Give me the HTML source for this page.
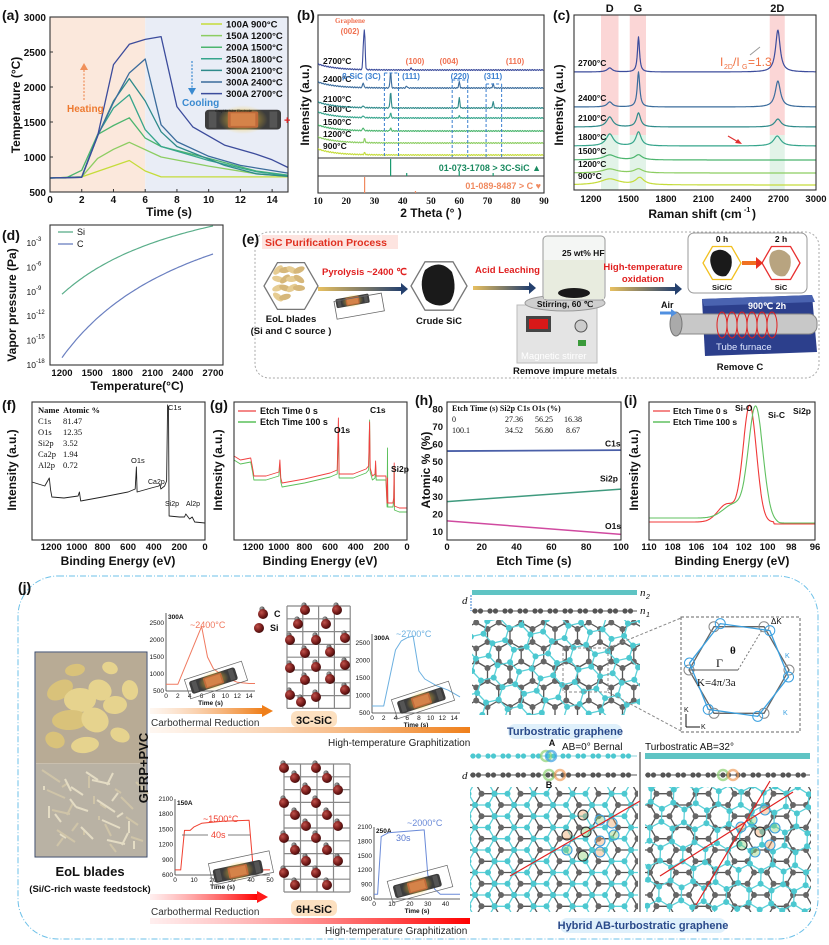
<!DOCTYPE html>
<html><head><meta charset="utf-8"><style>
html,body{margin:0;padding:0;background:#fff;width:829px;height:945px;overflow:hidden}
svg{display:block;font-family:"Liberation Sans",sans-serif}
</style></head><body>
<svg id="s" xmlns="http://www.w3.org/2000/svg" width="829" height="945" viewBox="0 0 829 945">
<defs>
<radialGradient id="si" cx="0.35" cy="0.35" r="0.7"><stop offset="0" stop-color="#c0504a"/><stop offset="0.6" stop-color="#7a1e1c"/><stop offset="1" stop-color="#3e0a0a"/></radialGradient>
<radialGradient id="cc" cx="0.35" cy="0.35" r="0.7"><stop offset="0" stop-color="#aaa"/><stop offset="1" stop-color="#333"/></radialGradient>
<radialGradient id="glow" cx="0.5" cy="0.5" r="0.5"><stop offset="0" stop-color="#ffcc33" stop-opacity="0.9"/><stop offset="1" stop-color="#ffcc33" stop-opacity="0"/></radialGradient>
<linearGradient id="gOr" x1="0" x2="1"><stop offset="0" stop-color="#f7b27a" stop-opacity="0.1"/><stop offset="1" stop-color="#ef7f1a"/></linearGradient>
<linearGradient id="gRd" x1="0" x2="1"><stop offset="0" stop-color="#ff6060" stop-opacity="0.1"/><stop offset="1" stop-color="#ff0000"/></linearGradient>
<linearGradient id="gAr" x1="0" x2="1"><stop offset="0" stop-color="#e8c060"/><stop offset="1" stop-color="#24406e"/></linearGradient>
<g id="heater"><rect x="0" y="3" width="80" height="22" rx="4" fill="#3c3c3c"/><rect x="4" y="5" width="8" height="18" fill="#555"/><rect x="68" y="5" width="8" height="18" fill="#555"/><ellipse cx="40" cy="14" rx="26" ry="16" fill="url(#glow)"/><rect x="24" y="5" width="32" height="18" rx="2" fill="#c06a3a"/><rect x="27" y="7" width="26" height="14" fill="#d98a4e" opacity="0.8"/></g>
</defs>
</svg>
<script>
var S=document.getElementById('s'),NS='http://www.w3.org/2000/svg';
function el(t,a,tx,par){var e=document.createElementNS(NS,t);for(var k in a)e.setAttribute(k,a[k]);if(tx!=null)e.textContent=tx;(par||S).appendChild(e);return e;}
function T(x,y,s,o){o=o||{};var a={x:x,y:y,'font-size':o.fs||9,fill:o.c||'#111'};if(o.b!==false)a['font-weight']='bold';if(o.a)a['text-anchor']=o.a;if(o.r)a.transform='rotate('+o.r+' '+x+' '+y+')';if(o.f)a['font-family']=o.f;if(o.it)a['font-style']='italic';return el('text',a,s);}
function lin(d0,d1,p0,p1){return function(v){return p0+(v-d0)*(p1-p0)/(d1-d0);};}
function path(pts,c,w,extra){var d='M'+pts.map(function(p){return p[0].toFixed(1)+','+p[1].toFixed(1)}).join('L');var a={d:d,fill:'none',stroke:c,'stroke-width':w||1.2,'stroke-linejoin':'round'};for(var k in extra||{})a[k]=extra[k];return el('path',a);}
function frame(x0,y0,x1,y1){el('rect',{x:x0,y:y0,width:x1-x0,height:y1-y0,fill:'none',stroke:'#333','stroke-width':1.1});}
var cols=['#c5dc3a','#8ccd62','#4cb56e','#36a58c','#2e8a8a','#3b6c9c','#3c4c9c'];

/* ===== (a) ===== */
(function(){var x0=50,x1=288,y0=17,y1=192,X=lin(0,15,x0,x1),Y=lin(500,3000,y1,y0);
el('rect',{x:x0,y:y0,width:X(6)-x0,height:y1-y0,fill:'#fbe8dc'});el('rect',{x:X(6),y:y0,width:x1-X(6),height:y1-y0,fill:'#e9edf6'});
var D=[[[0,700],[2,715],[5,950],[6,800],[7,715],[15,715]],
[[0,700],[2,715],[3,980],[4,1110],[5,1210],[7,1000],[10,870],[13,760],[15,725]],
[[0,700],[1,700],[2,810],[3,1320],[4,1450],[5,1560],[6,1270],[7,1150],[10,980],[13,800],[15,740]],
[[0,700],[2,715],[3,1320],[4,1700],[5,1890],[6,1390],[7,1150],[10,950],[13,790],[15,735]],
[[0,700],[2,710],[3,1300],[4,1800],[5,2120],[6,1800],[7,1360],[8,1150],[11,880],[13,760],[15,725]],
[[0,700],[2,710],[3,1300],[4,1780],[5,2200],[6,2400],[7,1460],[8,1220],[10,1010],[12,880],[15,770]],
[[0,700],[2,710],[3,1300],[4,2320],[5,2610],[6,2680],[7,2720],[8,1720],[9,1430],[11,1170],[13,1040],[14,960],[15,850]]];
D.forEach(function(d,i){path(d.map(function(p){return[X(p[0]),Y(p[1])]}),cols[i],1.3);});
frame(x0,y0,x1,y1);
for(var v=500;v<=3000;v+=500){T(x0-4,Y(v)+4,v,{a:'end',fs:10});el('line',{x1:x0,x2:x0+3,y1:Y(v),y2:Y(v),stroke:'#333'});}
for(var t=0;t<=14;t+=2){T(X(t),203,t,{a:'middle',fs:10});el('line',{x1:X(t),x2:X(t),y1:y1,y2:y1-3,stroke:'#333'});}
T(169,216,'Time (s)',{a:'middle',fs:12});T(20,105,'Temperature (°C)',{a:'middle',fs:12,r:-90});T(2,20,'(a)',{fs:14});
var L=['100A  900°C','150A 1200°C','200A 1500°C','250A 1800°C','300A 2100°C','300A 2400°C','300A 2700°C'];
L.forEach(function(s,i){var y=24+i*11.6;el('line',{x1:201,x2:222,y1:y,y2:y,stroke:cols[i],'stroke-width':1.5});T(226,y+3.5,s,{fs:9.5});});
el('line',{x1:84,x2:84,y1:100,y2:68,stroke:'#f0905a','stroke-width':1.2,'stroke-dasharray':'2,1.5'});el('path',{d:'M80,70L84,63L88,70Z',fill:'#f0905a'});
T(67,112,'Heating',{fs:10,c:'#ee7a30'});
el('line',{x1:192,x2:192,y1:61,y2:90,stroke:'#3a8ad0','stroke-width':1.2,'stroke-dasharray':'2,1.5'});el('path',{d:'M188,88L192,95L196,88Z',fill:'#3a8ad0'});
T(182,106,'Cooling',{fs:10,c:'#3a8ad0'});
el('use',{href:'#heater',transform:'translate(205,107) scale(0.95,0.9)'});T(215,112,'Graphite tube   Electrode',{fs:3.5,b:false});T(284,124,'+',{fs:11,c:'#e02020'});
})();

/* ===== (b) ===== */
(function(){var x0=318,x1=544,y0=15,y1=193,X=lin(10,90,x0,x1);
frame(x0,y0,x1,y1);el('line',{x1:x0,x2:x1,y1:158,y2:158,stroke:'#333'});el('line',{x1:x0,x2:x1,y1:176,y2:176,stroke:'#333'});
var B=[155,143,131,118,108,88,70],names=['900°C','1200°C','1500°C','1800°C','2100°C','2400°C','2700°C'];
var P=[[[26.5,2]],[[26.5,4]],[[26,3],[35.7,3]],[[26,2],[35.7,5],[60,2]],[[26,2],[35.7,16],[60,10],[72,6]],[[26,5],[35.7,16],[41.4,2],[60,6],[72,4]],[[26.5,34],[26.1,24],[43,2]]];
B.forEach(function(b,i){var pts=[];for(var t=10;t<=90;t+=0.2){var y=b-6*Math.exp(-(t-10)/6)+Math.sin(t*7.3)*0.5;P[i].forEach(function(p){y-=p[1]*Math.exp(-Math.pow((t-p[0])/0.3,2));});pts.push([X(t),y]);}path(pts,cols[i],1.1);T(x0+5,b-6,names[i],{fs:8.5});});
[[33.5,73],[38.5,73],[57.5,80],[63,80],[69.5,84],[75,84]].forEach(function(d){el('line',{x1:X(d[0]),x2:X(d[0]),y1:d[1],y2:157,stroke:'#3a7fd0','stroke-dasharray':'3,2','stroke-width':1});});
[[33.5,38.5,73],[57.5,63,80],[69.5,75,84]].forEach(function(d){el('line',{x1:X(d[0]),x2:X(d[1]),y1:d[2],y2:d[2],stroke:'#3a7fd0','stroke-dasharray':'3,2'});});
T(350,23,'Graphene',{fs:7,c:'#f07050',a:'middle',f:'Liberation Serif'});T(350,34,'(002)',{fs:8,c:'#f07050',a:'middle'});
T(415,64,'(100)',{fs:8,c:'#f07050',a:'middle'});T(449,64,'(004)',{fs:8,c:'#f07050',a:'middle'});T(515,64,'(110)',{fs:8,c:'#f07050',a:'middle'});
T(342,79,'β-SiC (3C)',{fs:8,c:'#3a7fd0'});T(411,79,'(111)',{fs:8,c:'#3a7fd0',a:'middle'});T(460,79,'(220)',{fs:8,c:'#3a7fd0',a:'middle'});T(493,79,'(311)',{fs:8,c:'#3a7fd0',a:'middle'});
[[35.7,0],[41.4,14],[60,12],[72,14]].forEach(function(d){el('line',{x1:X(d[0]),x2:X(d[0]),y1:176,y2:159+d[1],stroke:'#1a9a70','stroke-width':1.2});});
[[26.5,0],[44.5,14]].forEach(function(d){el('line',{x1:X(d[0]),x2:X(d[0]),y1:193,y2:177+d[1],stroke:'#f08a60','stroke-width':1.2});});
T(541,171,'01-073-1708 > 3C-SiC ▲',{fs:9,c:'#1a8a60',a:'end'});T(541,189,'01-089-8487 > C ♥',{fs:9,c:'#f08a60',a:'end'});
for(var t=10;t<=90;t+=10)T(X(t),204,t,{a:'middle',fs:9.5,f:'Liberation Serif'});
T(431,217,'2 Theta (°  )',{a:'middle',fs:12});T(309,105,'Intensity (a.u.)',{a:'middle',fs:12,r:-90});T(297,20,'(b)',{fs:14});
})();

/* ===== (c) ===== */
(function(){var x0=574,x1=816,y0=15,y1=190,X=lin(1064,3000,x0,x1);
[[1280,1420],[1510,1640],[2630,2750]].forEach(function(b){el('rect',{x:X(b[0]),y:y0,width:X(b[1])-X(b[0]),height:120,fill:'#fbd6d6'});el('rect',{x:X(b[0]),y:135,width:X(b[1])-X(b[0]),height:55,fill:'#e2f3e8'});});
var B=[185,173,160,146,127,107,72],names=['900°C','1200°C','1500°C','1800°C','2100°C','2400°C','2700°C'];
var P=[[[1350,6,90],[1590,7,40]],[[1350,4,70],[1580,4,40]],[[1350,5,60],[1580,5,35]],[[1350,12,35],[1580,14,25],[2690,10,35]],[[1350,10,30],[1580,14,20],[2695,8,30]],[[1350,5,25],[1580,35,12],[2695,26,25]],[[1350,4,25],[1580,35,10],[2695,42,22]]];
B.forEach(function(b,i){var pts=[];for(var w=1064;w<=3000;w+=4){var y=b;P[i].forEach(function(p){y-=p[1]/(1+Math.pow((w-p[0])/p[2],2));});pts.push([X(w),y]);}path(pts,cols[i],1.2);T(x0+4,b-6,names[i],{fs:8.5});});
frame(x0,y0,x1,y1);
for(var w=1200;w<=3000;w+=300)T(X(w),202,w,{a:'middle',fs:9.5});
T(695,218,'Raman shift (cm',{a:'middle',fs:12});T(744,212,'-1',{fs:7});T(752,218,')',{fs:12});
T(563,105,'Intensity (a.u.)',{a:'middle',fs:12,r:-90});T(553,20,'(c)',{fs:14});
T(X(1350),12,'D',{a:'middle',fs:11});T(X(1575),12,'G',{a:'middle',fs:11});T(X(2690),12,'2D',{a:'middle',fs:11});
T(720,66,'I',{fs:12,c:'#f07040',b:false});T(724,69,'2D',{fs:7,c:'#f07040',b:false});T(733,66,'/I',{fs:12,c:'#f07040',b:false});T(742,69,'G',{fs:7,c:'#f07040',b:false});T(748,66,'=1.3',{fs:12,c:'#f07040',b:false});
el('line',{x1:750,x2:760,y1:55,y2:47,stroke:'#999'});
el('line',{x1:728,x2:740,y1:136,y2:143,stroke:'#e03030','stroke-width':1.2});el('path',{d:'M742,144L735,143L738,139Z',fill:'#e03030'});
})();

/* ===== (d) ===== */
(function(){var x0=50,x1=223,y0=225,y1=365,X=lin(1200,2700,62,213),Y=lin(-18,-3,365,243);
frame(x0,y0,x1,y1);
function c(a,b){var pts=[];for(var t=1200;t<=2700;t+=20){var K=t+273;pts.push([X(t),Y(a-b/K)]);}return pts;}
var bSi=8.4/(1/1473-1/2973),aSi=-9.3+bSi/1473,bC=12.75/(1/1473-1/2973),aC=-17.1+bC/1473;
path(c(aSi,bSi),'#5aae8a',1.2);path(c(aC,bC),'#6a7fc0',1.2);
for(var e=-18;e<=-3;e+=3){T(x0-14,Y(e)+3,'10',{fs:8.5,a:'end',b:false});T(x0-14,Y(e)-2,e,{fs:6,b:false});}
for(var t=1200;t<=2700;t+=300)T(X(t),376,t,{a:'middle',fs:9.5});
T(137,390,'Temperature(°C)',{a:'middle',fs:12});T(16,305,'Vapor pressure (Pa)',{a:'middle',fs:12,r:-90});T(2,240,'(d)',{fs:14});
el('line',{x1:58,x2:73,y1:232,y2:232,stroke:'#5aae8a','stroke-width':1.3});T(77,235,'Si',{fs:9,b:false});
el('line',{x1:58,x2:73,y1:244,y2:244,stroke:'#6a7fc0','stroke-width':1.3});T(77,247,'C',{fs:9,b:false});
})();

/* ===== (e) ===== */
(function(){
el('rect',{x:255,y:232,width:564,height:146,rx:14,fill:'none',stroke:'#aaa','stroke-dasharray':'2,2'});
T(242,244,'(e)',{fs:14});
el('rect',{x:262,y:235,width:136,height:14,fill:'#fde4e0'});T(265,246,'SiC Purification Process',{fs:10.5,c:'#e03020'});
function hex(cx,cy,r,st,f){var p=[];for(var i=0;i<6;i++){var a=Math.PI/3*i;p.push((cx+r*Math.cos(a)).toFixed(1)+','+(cy+r*Math.sin(a)).toFixed(1));}return el('polygon',{points:p.join(' '),fill:f||'#fff',stroke:st,'stroke-width':1.3});}
hex(291,286,27,'#777');for(var i=0;i<14;i++){el('ellipse',{cx:278+(i*7)%28,cy:270+Math.floor(i/4)*9,rx:6,ry:3,transform:'rotate('+(i*37%90-45)+' '+(278+(i*7)%28)+' '+(270+Math.floor(i/4)*9)+')',fill:i%2?'#d6b77a':'#e6cc92'});}
T(291,322,'EoL blades',{fs:9.5,a:'middle'});T(291,334,'(Si and C source )',{fs:9.5,a:'middle'});
T(322,275,'Pyrolysis  ~2400 ℃',{fs:9.5,c:'#e02020'});
function arr(x1,x2,y){el('rect',{x:x1,y:y-2,width:x2-x1-6,height:4,fill:'url(#gAr)'});el('path',{d:'M'+(x2-7)+','+(y-6)+'L'+x2+','+y+'L'+(x2-7)+','+(y+6)+'Z',fill:'#24406e'});}
arr(318,408,289);arr(473,536,288);arr(610,682,289);
el('use',{href:'#heater',transform:'translate(335,298) rotate(-10) scale(0.42)'});
el('rect',{x:335,y:297,width:48,height:18,fill:'none',stroke:'#666','stroke-width':0.8,transform:'rotate(-10 360 305)'});
hex(439,286,28,'#777');el('path',{d:'M425,270Q440,258 452,272Q458,290 450,302Q438,310 426,300Q418,285 425,270Z',fill:'#1a1a1a'});
T(439,324,'Crude SiC',{fs:9.5,a:'middle'});
T(475,273,'Acid Leaching',{fs:9.5,c:'#e02020'});
el('rect',{x:517,y:305,width:80,height:58,fill:'#e4e4e4',stroke:'#bbb'});el('rect',{x:526,y:316,width:25,height:16,fill:'#444'});el('rect',{x:529,y:319,width:19,height:10,fill:'#d81818'});
el('circle',{cx:581,cy:326,r:6,fill:'#ccc',stroke:'#555'});el('rect',{x:578,y:340,width:8,height:6,fill:'#3a9a3a'});
T(521,359,'Magnetic  stirrer',{fs:9.5,c:'#fff',b:false});
el('ellipse',{cx:565,cy:303,rx:40,ry:8,fill:'#cfcfcf',stroke:'#999'});
el('rect',{x:543,y:236,width:62,height:64,rx:4,fill:'#f4f6f4',stroke:'#999'});el('rect',{x:544,y:260,width:60,height:39,fill:'#e8ecdf'});
el('ellipse',{cx:574,cy:293,rx:16,ry:5,fill:'#1a1a1a'});T(562,256,'25 wt% HF',{fs:8.5});T(565,307,'Stirring, 60 ℃',{fs:8.5,a:'middle'});
T(565,374,'Remove impure metals',{fs:9.5,a:'middle'});
T(643,270,'High-temperature',{fs:9.5,c:'#e02020',a:'middle'});T(643,282,'oxidation',{fs:9.5,c:'#e02020',a:'middle'});
el('rect',{x:688,y:233,width:119,height:60,rx:6,fill:'#fff',stroke:'#999'});
T(722,242,'0 h',{fs:8.5,a:'middle'});T(781,242,'2 h',{fs:8.5,a:'middle'});
hex(722,263,19,'#f2c020');el('path',{d:'M713,252Q723,246 731,256Q734,268 726,276Q716,278 712,268Q708,258 713,252Z',fill:'#1a1a1a'});
hex(781,263,19,'#e83030','#fff');el('path',{d:'M772,252Q782,246 790,256Q793,268 785,276Q775,278 771,268Q767,258 772,252Z',fill:'#b8a480'});
el('rect',{x:742,y:261,width:14,height:4,fill:'#f07020'});el('path',{d:'M756,257L763,263L756,269Z',fill:'#e83020'});
T(722,290,'SiC/C',{fs:7.5,a:'middle'});T(781,290,'SiC',{fs:7.5,a:'middle'});
el('path',{d:'M702,299L812,295L817,352L705,356Z',fill:'#2c3f8c'});el('path',{d:'M702,299L812,295L815,302L704,306Z',fill:'#4a63b0'});
el('rect',{x:672,y:314,width:145,height:20,rx:8,fill:'#c8c8c8',stroke:'#888'});el('ellipse',{cx:676,cy:324,rx:6,ry:12,fill:'#aaa',stroke:'#777'});
for(var i=0;i<6;i++)el('ellipse',{cx:722+i*10,cy:325,rx:5,ry:13,fill:'none',stroke:'#e02020','stroke-width':1});
T(748,309,'900℃ 2h',{fs:9,c:'#fff'});T(716,350,'Tube furnace',{fs:9.5,c:'#dde6ff',b:false});
T(661,308,'Air',{fs:9});el('path',{d:'M660,313L672,313',stroke:'#5090e0','stroke-width':3});el('path',{d:'M671,309L677,313L671,317Z',fill:'#5090e0'});
T(740,370,'Remove C',{fs:9.5,a:'middle'});
})();

/* ===== (f) ===== */
(function(){var x0=32,x1=205,y0=402,y1=540,X=lin(1350,0,x0,x1);
var pts=[[1350,482],[1300,484],[1250,486],[1215,478],[1205,490],[1195,497],[1100,498],[990,496],[980,492],[970,501],[800,497],[600,492],[545,489],[535,467],[530,492],[420,488],[360,486],[350,484],[345,489],[315,486],[300,481],[292,405],[285,408],[280,516],[200,517],[160,517],[150,514],[120,519],[100,517],[80,522],[0,523]];
path(pts.map(function(p){return[X(p[0]),p[1]]}),'#222',0.9);frame(x0,y0,x1,y1);
for(var e=1200;e>=0;e-=200)T(X(e),550,e,{a:'middle',fs:9.5});
T(118,565,'Binding Energy (eV)',{a:'middle',fs:12});T(16,470,'Intensity (a.u.)',{a:'middle',fs:12,r:-90});T(2,410,'(f)',{fs:14});
var tb=[['Name','Atomic %'],['C1s','81.47'],['O1s','12.35'],['Si2p','3.52'],['Ca2p','1.94'],['Al2p','0.72']];
tb.forEach(function(r,i){var o={fs:8.5,f:'Liberation Serif',b:i==0};T(38,413+i*11,r[0],o);T(63,413+i*11,r[1],o);});
T(168,410,'C1s',{fs:7.5,b:false});T(131,463,'O1s',{fs:7.5,b:false});T(148,484,'Ca2p',{fs:7,b:false});T(165,506,'Si2p',{fs:7,b:false});T(186,506,'Al2p',{fs:7,b:false});
})();

/* ===== (g) ===== */
(function(){var x0=234,x1=407,y0=402,y1=540,X=lin(1350,0,x0,x1);
var base=[[1350,458],[1300,462],[1220,460],[1205,470],[1195,478],[1100,478],[1000,474],[992,462],[985,480],[975,485],[800,481],[600,475],[545,472],[535,427],[530,476],[420,476],[320,471],[300,468],[292,418],[287,470],[270,478],[250,476],[245,463],[240,478],[200,478],[165,478],[155,505],[152,446],[150,505],[110,505],[104,500],[100,465],[98,508],[60,510],[0,510]];
path(base.map(function(p){return[X(p[0]),p[1]+2]}),'#5ac05a',0.9);
path(base.map(function(p){var y=p[1];if(p[0]==292)y=424;if(p[0]==152)y=480;if(p[0]==535)y=420;return[X(p[0]),y-2]}),'#f04040',0.9);
frame(x0,y0,x1,y1);
for(var e=1200;e>=0;e-=200)T(X(e),550,e,{a:'middle',fs:9.5});
T(320,565,'Binding Energy (eV)',{a:'middle',fs:12});T(222,470,'Intensity (a.u.)',{a:'middle',fs:12,r:-90});T(210,410,'(g)',{fs:14});
el('line',{x1:238,x2:256,y1:411,y2:411,stroke:'#f06060','stroke-width':1.5});T(260,414,'Etch Time 0 s',{fs:9});
el('line',{x1:238,x2:256,y1:422,y2:422,stroke:'#5ac05a','stroke-width':1.5});T(260,425,'Etch Time 100 s',{fs:9});
T(334,433,'O1s',{fs:8.5});T(370,413,'C1s',{fs:8.5});T(391,472,'Si2p',{fs:8.5});
})();

/* ===== (h) ===== */
(function(){var x0=447,x1=621,y0=402,y1=540,X=lin(0,100,x0,x1),Y=lin(10,70,532,427);
el('line',{x1:X(0),x2:X(100),y1:Y(56.25),y2:Y(56.8),stroke:'#4a5fa8','stroke-width':1.8});
el('line',{x1:X(0),x2:X(100),y1:Y(27.36),y2:Y(34.52),stroke:'#3f9a7e','stroke-width':1.5});
el('line',{x1:X(0),x2:X(100),y1:Y(16.38),y2:Y(8.67),stroke:'#d04aa0','stroke-width':1.5});
frame(x0,y0,x1,y1);
for(var v=10;v<=80;v+=10)T(x0-4,Y(v)+3,v,{a:'end',fs:9.5});
for(var t=0;t<=100;t+=20)T(X(t),550,t,{a:'middle',fs:9.5});
T(534,565,'Etch Time (s)',{a:'middle',fs:12});T(430,470,'Atomic % (%)',{a:'middle',fs:12,r:-90});T(415,405,'(h)',{fs:14});
T(605,Y(56)-5,'C1s',{fs:8.5});T(600,Y(35)-7,'Si2p',{fs:8.5});T(605,Y(9)-5,'O1s',{fs:8.5});
var o={fs:8,f:'Liberation Serif',b:false};
T(452,411,'Etch Time (s)  Si2p      C1s      O1s (%)',{fs:8,f:'Liberation Serif'});
T(452,422,'0',o);T(505,422,'27.36',o);T(535,422,'56.25',o);T(564,422,'16.38',o);
T(452,433,'100.1',o);T(505,433,'34.52',o);T(535,433,'56.80',o);T(566,433,'8.67',o);
})();

/* ===== (i) ===== */
(function(){var x0=649,x1=815,y0=402,y1=540,X=lin(110,96,x0,x1);
var r=[],g=[];for(var e=110;e>=96;e-=0.05){r.push([X(e),522-116*Math.exp(-Math.pow((e-101.5)/0.8,2))-18*Math.exp(-Math.pow((e-103.4)/1.1,2))+(e<99.5?2:0)]);g.push([X(e),518+(e<100?5:0)*Math.min(1,(100-e))-110*Math.exp(-Math.pow((e-101.0)/0.85,2))-14*Math.exp(-Math.pow((e-102.8)/1.3,2))]);}
path(r,'#f03838',1.1);path(g,'#60c060',1.1);frame(x0,y0,x1,y1);
for(var e=110;e>=96;e-=2)T(X(e),550,e,{a:'middle',fs:9.5});
T(732,565,'Binding Energy (eV)',{a:'middle',fs:12});T(638,470,'Intensity (a.u.)',{a:'middle',fs:12,r:-90});T(624,405,'(i)',{fs:14});
el('line',{x1:653,x2:670,y1:411,y2:411,stroke:'#f06060','stroke-width':1.5});T(673,414,'Etch Time 0 s',{fs:8.5});
el('line',{x1:653,x2:670,y1:422,y2:422,stroke:'#60c060','stroke-width':1.5});T(673,425,'Etch Time 100 s',{fs:8.5});
T(735,411,'Si-O',{fs:8.5});T(768,418,'Si-C',{fs:8.5});T(811,414,'Si2p',{fs:8.5,a:'end'});
})();

/* ===== (j) ===== */
(function(){
el('rect',{x:18,y:576,width:800,height:363,rx:40,fill:'none',stroke:'#6cc0e8','stroke-width':1,'stroke-dasharray':'6,2,1,2'});
T(18,592,'(j)',{fs:14});
el('rect',{x:35,y:652,width:112,height:205,fill:'#c9bfae',stroke:'#3a4a6a','stroke-width':1});
el('rect',{x:36,y:653,width:110,height:110,fill:'#b8ab95'});
var blobs=[[60,690,14,9],[80,700,16,12],[100,690,12,10],[70,720,18,10],[95,720,14,12],[115,705,12,9],[55,740,10,8],[85,745,14,8],[120,735,10,7],[75,670,10,6],[110,668,8,6],[130,690,8,10]];
blobs.forEach(function(b,i){el('ellipse',{cx:b[0],cy:b[1],rx:b[2],ry:b[3],transform:'rotate('+(i*29%60-30)+' '+b[0]+' '+b[1]+')',fill:i%3?'#e6d38e':'#d9c27a'});});
el('rect',{x:36,y:764,width:110,height:92,fill:'#b9b2a4'});
for(var i=0;i<40;i++){var x=42+(i*29)%95,y=770+(i*17)%75;el('line',{x1:x,y1:y,x2:x+18-(i%5)*6,y2:y+12-(i%3)*4,stroke:i%2?'#e4dcc4':'#cfc4a8','stroke-width':2});}
T(148,768,'GFRP+PVC',{fs:13,a:'middle',r:-90});
T(90,876,'EoL blades',{fs:13,a:'middle'});T(90,892,'(Si/C-rich waste feedstock)',{fs:9.5,a:'middle'});
function mini(x0,y0,x1,y1,xr,yr,xt,yt,data,col,lab,lx,ly,cur){var X=lin(xr[0],xr[1],x0,x1),Y=lin(yr[0],yr[1],y1,y0);
el('line',{x1:x0,x2:x0,y1:y0,y2:y1,stroke:'#333','stroke-width':0.8});el('line',{x1:x0,x2:x1,y1:y1,y2:y1,stroke:'#333','stroke-width':0.8});
xt.forEach(function(t){T(X(t),y1+7,t,{fs:6.5,a:'middle',b:false});});yt.forEach(function(t){T(x0-2,Y(t)+2,t,{fs:6.5,a:'end',b:false});});
T((x0+x1)/2,y1+14,'Time (s)',{fs:6.5,a:'middle'});T(x0+2,y0+6,cur,{fs:6.5});
path(data.map(function(p){return[X(p[0]),Y(p[1])]}),col,1);T(lx,ly,lab,{fs:9,c:col,b:false});}
mini(166,613,255,691,[0,15],[500,2794],[0,2,4,6,8,10,12,14],[500,1000,1500,2000,2500],[[0,700],[2,700],[6,2400],[7,1500],[8,1150],[10,900],[12,760],[14,720],[15,720]],'#f07a60','~2400°C',190,628,'300A');
el('use',{href:'#heater',transform:'translate(188,680) rotate(-18) scale(0.6)'});el('rect',{x:186,y:670,width:60,height:20,fill:'none',stroke:'#666','stroke-width':0.7,transform:'rotate(-18 216 680)'});
mini(372,634,460,713,[0,15],[500,2757],[0,2,4,6,8,10,12,14],[500,1000,1500,2000,2500],[[0,700],[2,700],[4,2300],[5,2560],[6,2650],[7,2700],[8,1700],[9,1470],[11,1280],[13,1150],[15,960]],'#6cb0e0','~2700°C',396,637,'300A');
el('use',{href:'#heater',transform:'translate(396,700) rotate(-18) scale(0.6)'});el('rect',{x:393,y:690,width:60,height:20,fill:'none',stroke:'#666','stroke-width':0.7,transform:'rotate(-18 423 700)'});
mini(175,799,270,875,[0,50],[600,2100],[0,10,20,30,40,50],[600,900,1200,1500,1800,2100],[[0,700],[3,700],[5,1480],[8,1480],[10,1550],[14,1620],[25,1660],[39,1680],[41,800],[43,700],[50,700]],'#f04030','~1500°C',203,822,'150A');
T(211,838,'40s',{fs:9,c:'#f04030',b:false});el('line',{x1:182,x2:208,y1:835,y2:835,stroke:'#555','stroke-width':0.7});el('line',{x1:228,x2:250,y1:835,y2:835,stroke:'#555','stroke-width':0.7});
el('use',{href:'#heater',transform:'translate(212,868) rotate(-12) scale(0.62)'});el('rect',{x:210,y:857,width:62,height:22,fill:'none',stroke:'#666','stroke-width':0.7,transform:'rotate(-12 241 868)'});
mini(374,827,460,899,[0,48],[600,2100],[0,10,20,30,40],[600,900,1200,1500,1800,2100],[[0,700],[2,700],[4,1900],[8,1980],[28,2040],[30,1100],[34,800],[37,700],[48,700]],'#6a8ad8','~2000°C',407,826,'250A');
T(396,841,'30s',{fs:9,c:'#5a7ad0',b:false});
el('use',{href:'#heater',transform:'translate(392,884) rotate(-15) scale(0.6)'});el('rect',{x:389,y:873,width:62,height:22,fill:'none',stroke:'#666','stroke-width':0.7,transform:'rotate(-15 420 884)'});
function bigArr(x1,x2,y,h,g,hc){el('rect',{x:x1,y:y-h/2,width:x2-x1-10,height:h,fill:g});el('path',{d:'M'+(x2-11)+','+(y-h)+'L'+x2+','+y+'L'+(x2-11)+','+(y+h)+'Z',fill:hc});}
bigArr(150,273,711,6,'url(#gOr)','#ef7f1a');el('rect',{x:150,y:727,width:320,height:6,fill:'url(#gOr)'});
bigArr(150,268,897,6,'url(#gRd)','#ff1a1a');el('rect',{x:150,y:918,width:320,height:6,fill:'url(#gRd)'});
T(151,726,'Carbothermal Reduction',{fs:10,b:false,c:'#333'});T(151,915,'Carbothermal Reduction',{fs:10,b:false,c:'#333'});
T(328,746,'High-temperature Graphitization',{fs:10,b:false,c:'#222'});T(325,934,'High-temperature Graphitization',{fs:10,b:false,c:'#222'});
function grid(x0,y0,nc,nr,w,h){for(var i=0;i<=nc;i++)el('line',{x1:x0+i*w,x2:x0+i*w,y1:y0,y2:y0+nr*h,stroke:'#888','stroke-width':1.2});for(var j=0;j<=nr;j++)el('line',{x1:x0,x2:x0+nc*w,y1:y0+j*h,y2:y0+j*h,stroke:'#888','stroke-width':1.2});}
function at(x,y){el('circle',{cx:x-1,cy:y-5,r:2.6,fill:'url(#cc)'});el('circle',{cx:x,cy:y,r:5,fill:'url(#si)'});}
grid(287,606,4,8,15.8,12.8);
[[305,610],[337,610],[298,624],[326,624],[290,640],[316,640],[345,638],[305,653],[330,652],[290,668],[316,667],[345,665],[305,680],[330,679],[290,695],[316,697],[345,690],[301,702]].forEach(function(p){at(p[0],p[1]);});
grid(284,764,4,10,16.5,12.8);
[[284,768],[316,768],[295,778],[327,778],[306,790],[338,790],[284,803],[316,803],[295,815],[327,815],[306,826],[338,826],[284,838],[316,838],[295,850],[327,850],[306,861],[338,861],[284,873],[316,873],[295,885],[327,885]].forEach(function(p){at(p[0],p[1]);});
at(263,614);T(274,617,'C',{fs:9});el('circle',{cx:259,cy:628,r:5,fill:'url(#si)'});T(270,631,'Si',{fs:9});
el('rect',{x:291,y:711,width:46,height:16,rx:6,fill:'#fbd8b0',opacity:0.8});T(314,724,'3C-SiC',{fs:11,a:'middle'});
el('rect',{x:291,y:900,width:46,height:16,rx:6,fill:'#fbd8b0',opacity:0.8});T(314,913,'6H-SiC',{fs:11,a:'middle'});
/* graphene lattice: absolute coordinates, culled to clip rect */
var defs=S.querySelector('defs');
function honey(cl,rc,a,ang,col,ac,ox,oy){var g=el('g',{'clip-path':'url(#'+cl+')'});var s3=Math.sqrt(3),th=ang*Math.PI/180,co=Math.cos(th),sn=Math.sin(th);
function tr(x,y){return[ox+x*co-y*sn,oy+x*sn+y*co];}
function inR(p){return p[0]>rc[0]-a&&p[0]<rc[0]+rc[2]+a&&p[1]>rc[1]-a&&p[1]<rc[1]+rc[3]+a;}
var d='',pts=[];
for(var i=-14;i<=14;i++)for(var j=-14;j<=14;j++){var x=i*s3*a+j*s3*a/2,y=j*1.5*a;var A=tr(x,y);if(!inR(A))continue;var Bp=tr(x,y+a),C=tr(x-s3*a/2,y-a/2),E=tr(x+s3*a/2,y-a/2);
[Bp,C,E].forEach(function(q){if(inR(q))d+='M'+A[0].toFixed(1)+','+A[1].toFixed(1)+'L'+q[0].toFixed(1)+','+q[1].toFixed(1);});
pts.push(A);if(inR(Bp))pts.push(Bp);}
el('path',{d:d,stroke:col,'stroke-width':1.3,fill:'none'},null,g);
pts.forEach(function(p){el('circle',{cx:p[0].toFixed(1),cy:p[1].toFixed(1),r:3,fill:ac},null,g);});}
var R1=[472,620,168,95],R2=[470,787,168,125],R3=[645,787,166,125];
[['c1',R1],['c2',R2],['c3',R3]].forEach(function(c){var cp=el('clipPath',{id:c[0]},null,defs);el('rect',{x:c[1][0],y:c[1][1],width:c[1][2],height:c[1][3]},null,cp);});
honey('c1',R1,13,0,'#555','#666',555,668);honey('c1',R1,13,17,'#5cd0d8','#4cc8d0',557,663);
honey('c2',R2,13,90,'#555','#666',553,850);honey('c2',R2,13,90,'#5cd0d8','#4cc8d0',566,850);
honey('c3',R3,13,90,'#555','#666',728,850);honey('c3',R3,13,122,'#5cd0d8','#4cc8d0',728,850);
el('rect',{x:472,y:590,width:165,height:5,fill:'#5fc4c4'});el('line',{x1:472,x2:637,y1:611,y2:611,stroke:'#555'});
for(var x=475;x<636;x+=15){el('circle',{cx:x,cy:611,r:2.6,fill:'#555'});el('circle',{cx:x+5.5,cy:611,r:2.6,fill:'#555'});}
el('line',{x1:471,x2:471,y1:595,y2:611,stroke:'#3a7fd0','stroke-dasharray':'2,1'});
T(462,604,'d',{fs:11,f:'Liberation Serif',b:false,it:true});T(640,596,'n',{fs:11,f:'Liberation Serif',b:false,it:true});T(646,599,'2',{fs:7,b:false,it:true});T(640,614,'n',{fs:11,f:'Liberation Serif',b:false,it:true});T(646,617,'1',{fs:7,b:false,it:true});
el('rect',{x:563,y:648,width:45,height:44,fill:'none',stroke:'#888','stroke-dasharray':'3,2'});
el('line',{x1:608,y1:648,x2:681,y2:618,stroke:'#888','stroke-dasharray':'3,2'});el('line',{x1:608,y1:692,x2:681,y2:731,stroke:'#888','stroke-dasharray':'3,2'});
el('rect',{x:681,y:617,width:119,height:115,fill:'#fff',stroke:'#666','stroke-dasharray':'3,2'});
function hx(cx,cy,R,rot,c){var p=[];for(var i=0;i<6;i++){var a=(i*60+rot)*Math.PI/180;p.push([cx+R*Math.cos(a),cy+R*Math.sin(a)]);}el('polygon',{points:p.map(function(q){return q.join(',')}).join(' '),fill:'none',stroke:c,'stroke-width':1.3});return p;}
hx(739,670,50,0,'#666').forEach(function(q){el('circle',{cx:q[0],cy:q[1],r:5,fill:'none',stroke:'#888'});});
hx(739,670,50,8,'#3aa0e0').forEach(function(q){el('circle',{cx:q[0],cy:q[1],r:5,fill:'none',stroke:'#3aa0e0'});});
el('line',{x1:690,x2:738,y1:670,y2:670,stroke:'#555'});el('line',{x1:738,x2:762,y1:670,y2:630,stroke:'#777','stroke-dasharray':'2,2'});
T(716,667,'Γ',{fs:12,f:'Liberation Serif',b:false});T(730,654,'θ',{fs:11,f:'Liberation Serif'});T(697,686,'K=4π/3a',{fs:11,f:'Liberation Serif',b:false});
T(771,624,'ΔK',{fs:8,b:false});T(785,658,'K',{fs:7,c:'#3aa0e0',b:false});T(783,715,"K",{fs:7,c:'#3aa0e0',b:false});
el('path',{d:'M686,727L686,714M686,727L700,727',stroke:'#111',fill:'none'});T(701,729,'K',{fs:7,b:false});T(684,712,'K',{fs:7,b:false});
el('rect',{x:508,y:724,width:114,height:15,rx:7,fill:'#dff0fb'});T(565,735,'Turbostratic graphene',{fs:11,a:'middle',c:'#2a4a8a'});
T(552,746,'A',{fs:9,a:'middle'});T(562,750,'AB=0°    Bernal',{fs:10,b:false});T(645,750,'Turbostratic  AB=32°',{fs:10,b:false});
el('line',{x1:640,x2:640,y1:752,y2:912,stroke:'#777','stroke-width':1.5});
el('line',{x1:470,x2:637,y1:756,y2:756,stroke:'#8ad0d8'});el('rect',{x:645,y:753,width:165,height:6,fill:'#5fc4c4'});
for(var x=473;x<636;x+=15){el('circle',{cx:x,cy:756,r:2.6,fill:'#4cc8d0'});el('circle',{cx:x+5.5,cy:756,r:2.6,fill:'#4cc8d0'});}
[[470,637],[645,810]].forEach(function(r){el('line',{x1:r[0],x2:r[1],y1:775,y2:775,stroke:'#555'});for(var x=r[0]+3;x<r[1];x+=15){el('circle',{cx:x,cy:775,r:2.6,fill:'#555'});el('circle',{cx:x+5.5,cy:775,r:2.6,fill:'#555'});}});
T(462,779,'d',{fs:11,f:'Liberation Serif',b:false,it:true});T(549,788,'B',{fs:9,a:'middle'});
[[546,756,'#8cd070'],[551,756,'#3aa0e0'],[549,775,'#8cd070'],[560,775,'#f0a060'],[723,775,'#8cd070'],[733,775,'#f0a060']].forEach(function(c){el('circle',{cx:c[0],cy:c[1],r:5,fill:'none',stroke:c[2],'stroke-width':2.5,opacity:0.7});});
[[583,815],[600,820],[612,823],[586,832],[600,841],[614,835],[567,835],[567,850],[600,852],[583,856],[765,810],[752,820],[760,832],[775,828],[741,827],[742,845],[770,845],[755,852]].forEach(function(p,i){el('circle',{cx:p[0],cy:p[1],r:5,fill:i%2?'rgba(140,208,112,0.4)':'rgba(240,160,96,0.4)',stroke:i%3?'#3aa0e0':'#333','stroke-width':1.1});});
el('line',{x1:510,y1:876,x2:640,y2:801,stroke:'#e02020','stroke-width':1.2});el('line',{x1:660,y1:876,x2:793,y2:792,stroke:'#e02020','stroke-width':1.2});el('line',{x1:696,y1:905,x2:770,y2:781,stroke:'#e02020','stroke-width':1.2});
el('rect',{x:560,y:918,width:166,height:15,rx:7,fill:'#dff0fb'});T(643,929,'Hybrid AB-turbostratic graphene',{fs:11,a:'middle',c:'#2a4a8a'});
})();
</script>
</body></html>
